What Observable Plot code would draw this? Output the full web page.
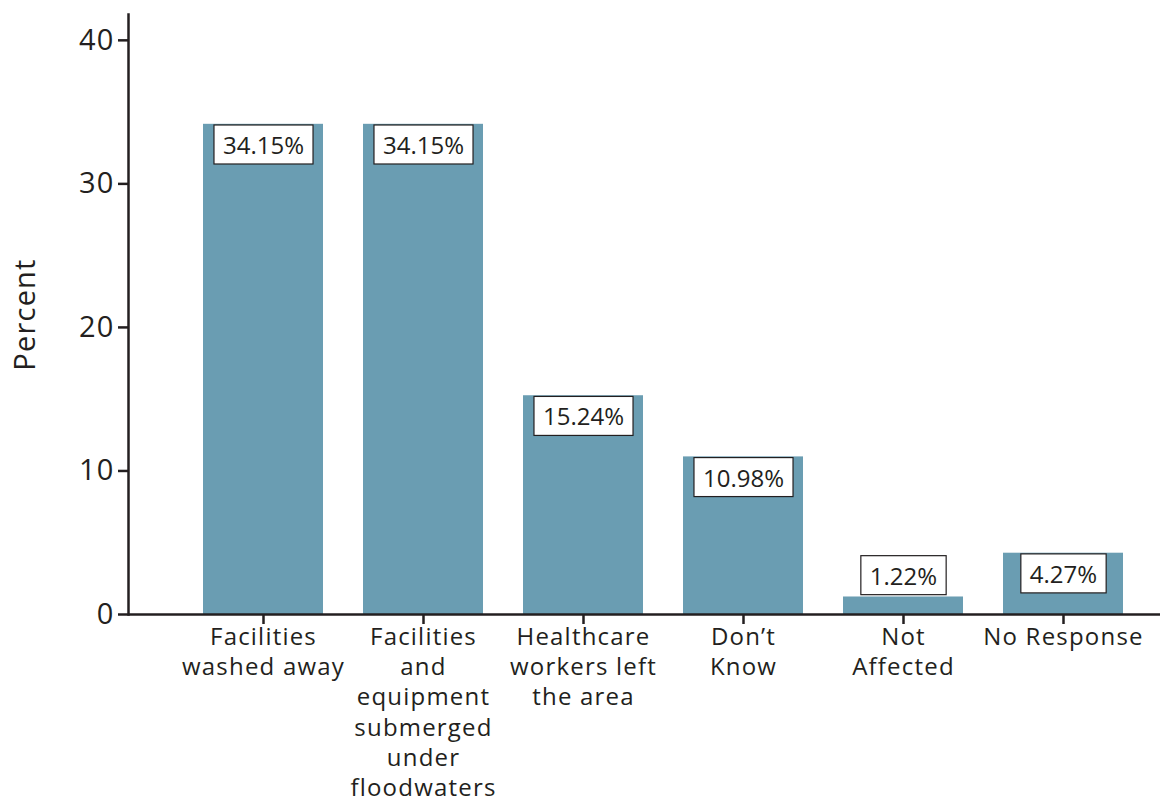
<!DOCTYPE html>
<html><head><meta charset="utf-8">
<script src="https://cdn.jsdelivr.net/npm/d3@7"></script>
<script src="https://cdn.jsdelivr.net/npm/@observablehq/plot@0.6"></script>
<style>body{margin:0;background:#fff} #chart svg text{letter-spacing:1.2px}</style>
</head><body><div id="chart"></div>
<script>
const categories = ["Facilities washed away", "Facilities and equipment submerged under floodwaters", "Healthcare workers left the area", "Don’t Know", "Not Affected", "No Response"];
const tickLabels = ["Facilities\nwashed away", "Facilities\nand\nequipment\nsubmerged\nunder\nfloodwaters", "Healthcare\nworkers left\nthe area", "Don’t\nKnow", "Not\nAffected", "No Response"];
const percents = [34.15, 34.15, 15.24, 10.98, 1.22, 4.27];
const valueLabels = ["34.15%", "34.15%", "15.24%", "10.98%", "1.22%", "4.27%"];
const yTicks = [0, 10, 20, 30, 40];

const ink = "#231f20";
const barColor = "#6a9db2";
const data = categories.map((c, i) => ({cat: c, value: percents[i], label: valueLabels[i], tick: tickLabels[i]}));
const inside = data.filter(d => d.value >= 3);
const above = data.filter(d => d.value < 3);

const chart = Plot.plot({
  width: 1171,
  height: 804,
  marginLeft: 128,
  marginRight: 11,
  marginTop: 14,
  marginBottom: 190,
  style: {fontFamily: "'Open Sans', sans-serif", color: ink, background: "#fff"},
  x: {domain: categories, range: [182, 1143], paddingInner: 0.25, paddingOuter: 0.125},
  y: {domain: [0, 41.8]},
  marks: [
    Plot.barY(data, {x: "cat", y: "value", fill: barColor}),
    Plot.frame({anchor: "left", stroke: ink, strokeWidth: 2.5}),
    Plot.ruleY([0], {stroke: ink, strokeWidth: 2.5}),
    Plot.axisY({ticks: yTicks, tickSize: 10, tickPadding: 4, fontSize: 29, stroke: ink, strokeWidth: 2.5, fill: ink,
      label: "Percent", labelAnchor: "center", labelOffset: 114, labelArrow: "none"}),
    Plot.axisX({tickSize: 10, tickPadding: -1, fontSize: 24, lineHeight: 1.26, stroke: ink, strokeWidth: 2.5, fill: ink,
      label: null, tickFormat: d => tickLabels[categories.indexOf(d)]}),
    Plot.text(inside, {x: "cat", y: "value", text: "label", dy: 22, fontSize: 24, fill: ink, lineAnchor: "middle", className: "vlabel"}),
    Plot.text(above, {x: "cat", y: "value", text: "label", dy: -20, fontSize: 24, fill: ink, lineAnchor: "middle", className: "vlabel"})
  ]
});
document.getElementById("chart").appendChild(chart);

// white boxes behind value labels, sized from the rendered text
chart.querySelectorAll("g.vlabel text").forEach(t => {
  t.style.letterSpacing = "0px";
  const b = t.getBBox();
  const cy = b.y + b.height / 2;
  const padX = 9, h = 39;
  const r = document.createElementNS("http://www.w3.org/2000/svg", "rect");
  r.setAttribute("x", b.x - padX);
  r.setAttribute("y", cy - h / 2);
  r.setAttribute("width", b.width + 2 * padX);
  r.setAttribute("height", h);
  r.setAttribute("fill", "#fff");
  r.setAttribute("stroke", ink);
  r.setAttribute("stroke-width", 1.2);
  const tr = t.getAttribute("transform");
  if (tr) r.setAttribute("transform", tr);
  t.parentNode.insertBefore(r, t);
});
</script>
</body></html>
